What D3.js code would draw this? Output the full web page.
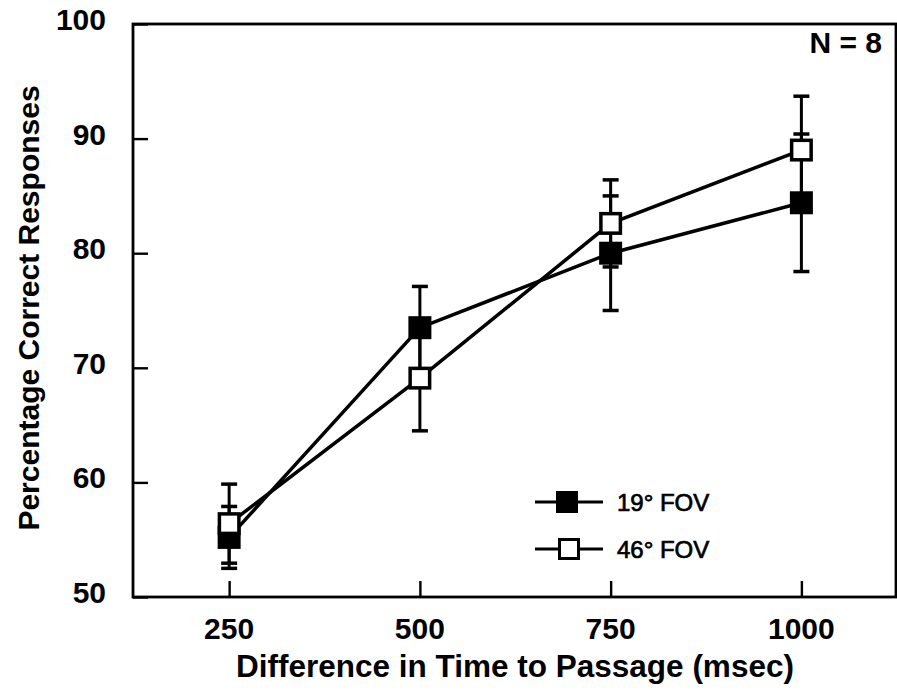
<!DOCTYPE html>
<html>
<head>
<meta charset="utf-8">
<script src="https://cdn.jsdelivr.net/npm/d3@7/dist/d3.min.js"></script>
<style>
  html, body { margin: 0; padding: 0; background: #fff; }
  svg { display: block; }
  text { font-family: "Liberation Sans", Arial, Helvetica, sans-serif; fill: #000; }
</style>
</head>
<body>
<svg id="chart" width="897" height="692"></svg>
<script>
// ---- data ----
const categories = [250, 500, 750, 1000];
const fov19Mean = [55.2, 73.5, 80.0, 84.4];
const fov19Err  = [2.7, 3.6, 5.0, 6.0];
const fov46Mean = [56.4, 69.1, 82.6, 89.0];
const fov46Err  = [3.45, 4.6, 3.8, 4.7];
const yTicks = [50, 60, 70, 80, 90, 100];
const xTicks = [250, 500, 750, 1000];
const seriesNames = ["19\u00B0 FOV", "46\u00B0 FOV"];
const yTitle = "Percentage Correct Responses";
const xTitle = "Difference in Time to Passage (msec)";
const note = "N = 8";

(function () {
// ---- layout ----
const svg = d3.select("#chart");
const pLeft = 133, pRight = 896, pTop = 24, pBottom = 597;
const x = d3.scaleLinear().domain([124, 1124]).range([pLeft, pRight]);
const y = d3.scaleLinear().domain([50, 100]).range([pBottom, pTop]);

// frame
svg.append("rect")
  .attr("x", pLeft).attr("y", pTop)
  .attr("width", pRight - pLeft).attr("height", pBottom - pTop)
  .attr("fill", "none").attr("stroke", "#000").attr("stroke-width", 2.8);

// y axis ticks (inward) + labels
const yAxis = d3.axisRight(y).tickValues(yTicks).tickSize(15).tickFormat("");
const gy = svg.append("g").attr("transform", `translate(${pLeft},0)`).call(yAxis);
gy.select(".domain").remove();
gy.selectAll("line").attr("stroke", "#000").attr("stroke-width", 2.4);

svg.append("g").selectAll("text").data(yTicks).join("text")
  .attr("x", 106).attr("y", d => y(d) + 6)
  .attr("text-anchor", "end")
  .attr("font-size", 30).attr("font-weight", "bold")
  .text(d => d);

// x axis ticks (inward/up) + labels
const xAxis = d3.axisTop(x).tickValues(xTicks).tickSize(16).tickFormat("");
const gx = svg.append("g").attr("transform", `translate(0,${pBottom})`).call(xAxis);
gx.select(".domain").remove();
gx.selectAll("line").attr("stroke", "#000").attr("stroke-width", 2.4);

svg.append("g").selectAll("text").data(xTicks).join("text")
  .attr("x", d => x(d)).attr("y", 639)
  .attr("text-anchor", "middle")
  .attr("font-size", 30).attr("font-weight", "bold")
  .text(d => d);

// titles
svg.append("text")
  .attr("x", 515).attr("y", 677)
  .attr("text-anchor", "middle")
  .attr("font-size", 31.5).attr("font-weight", "bold")
  .text(xTitle);

svg.append("text")
  .attr("transform", `translate(39,308) rotate(-90)`)
  .attr("text-anchor", "middle")
  .attr("font-size", 30).attr("font-weight", "bold")
  .text(yTitle);

svg.append("text")
  .attr("x", 882).attr("y", 53)
  .attr("text-anchor", "end")
  .attr("font-size", 30).attr("font-weight", "bold")
  .text(note);

// ---- series ----
const s19 = categories.map((c, i) => ({ x: c, m: fov19Mean[i], e: fov19Err[i] }));
const s46 = categories.map((c, i) => ({ x: c, m: fov46Mean[i], e: fov46Err[i] }));
const line = d3.line().x(d => x(d.x)).y(d => y(d.m));

[s19, s46].forEach(s => {
  svg.append("path").datum(s).attr("d", line)
    .attr("fill", "none").attr("stroke", "#000").attr("stroke-width", 3.5);
});

function errorBars(s) {
  const g = svg.append("g").attr("stroke", "#000").attr("stroke-width", 3);
  g.selectAll("line.v").data(s).join("line").attr("class", "v")
    .attr("x1", d => x(d.x)).attr("x2", d => x(d.x))
    .attr("y1", d => y(d.m - d.e)).attr("y2", d => y(d.m + d.e));
  g.selectAll("line.t").data(s).join("line").attr("class", "t")
    .attr("x1", d => x(d.x) - 8).attr("x2", d => x(d.x) + 8)
    .attr("y1", d => y(d.m + d.e)).attr("y2", d => y(d.m + d.e)).attr("stroke-width", 3.5);
  g.selectAll("line.b").data(s).join("line").attr("class", "b")
    .attr("x1", d => x(d.x) - 8).attr("x2", d => x(d.x) + 8)
    .attr("y1", d => y(d.m - d.e)).attr("y2", d => y(d.m - d.e)).attr("stroke-width", 3.5);
}
errorBars(s19);
errorBars(s46);

const sz = 23;
svg.append("g").selectAll("rect").data(s19).join("rect")
  .attr("x", d => x(d.x) - sz / 2).attr("y", d => y(d.m) - sz / 2)
  .attr("width", sz).attr("height", sz).attr("fill", "#000");
svg.append("g").selectAll("rect").data(s46).join("rect")
  .attr("x", d => x(d.x) - (sz - 3.5) / 2).attr("y", d => y(d.m) - (sz - 3.5) / 2)
  .attr("width", sz - 3.5).attr("height", sz - 3.5)
  .attr("fill", "#fff").attr("stroke", "#000").attr("stroke-width", 3.5);

// ---- legend ----
const legendY = [502, 549];
const lg = svg.append("g");
seriesNames.forEach((name, i) => {
  lg.append("line").attr("x1", 535).attr("x2", 603)
    .attr("y1", legendY[i]).attr("y2", legendY[i])
    .attr("stroke", "#000").attr("stroke-width", 3);
  if (i === 0) {
    lg.append("rect").attr("x", 567 - 11).attr("y", legendY[i] - 11)
      .attr("width", 22).attr("height", 22).attr("fill", "#000");
  } else {
    lg.append("rect").attr("x", 569 - 9.5).attr("y", legendY[i] - 9.5)
      .attr("width", 19).attr("height", 19)
      .attr("fill", "#fff").attr("stroke", "#000").attr("stroke-width", 3);
  }
  lg.append("text").attr("x", 617).attr("y", legendY[i] + 9)
    .attr("font-size", 24)
    .attr("stroke", "#000").attr("stroke-width", 0.7)
    .text(name);
});
})();
</script>
</body>
</html>
